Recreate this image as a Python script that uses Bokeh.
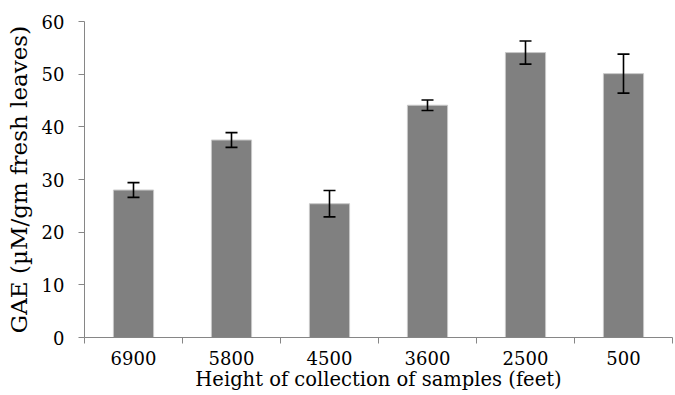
from bokeh.plotting import figure
from bokeh.models import ColumnDataSource, Whisker, FixedTicker, Range1d
from bokeh.embed import file_html
from bokeh.resources import INLINE

categories = ["6900", "5800", "4500", "3600", "2500", "500"]
gae = [28.0, 37.5, 25.4, 44.1, 54.1, 50.1]
err = [1.4, 1.4, 2.5, 1.0, 2.2, 3.7]

xpos = [i + 0.5 for i in range(len(categories))]
src = ColumnDataSource(dict(
    x=xpos, top=gae,
    upper=[v + e for v, e in zip(gae, err)],
    lower=[v - e for v, e in zip(gae, err)],
))

p = figure(width=675, height=395, output_backend="svg", toolbar_location=None,
           x_range=Range1d(0, len(categories)), y_range=Range1d(0, 60),
           min_border_left=84, min_border_right=3, min_border_top=21, min_border_bottom=58)
p.frame_width = 588
p.frame_height = 316
p.outline_line_color = None
p.xgrid.visible = False
p.ygrid.visible = False
p.background_fill_color = "white"
p.border_fill_color = "white"

p.vbar(x="x", top="top", width=0.41, bottom=0, source=src,
       fill_color="#808080", line_color="#c8c8c8", line_width=1)

w = Whisker(base="x", upper="upper", lower="lower", source=src,
            line_color="black", line_width=1.6, level="overlay")
w.upper_head.size = 12
w.lower_head.size = 12
w.upper_head.line_color = "black"
w.lower_head.line_color = "black"
w.upper_head.line_width = 1.6
w.lower_head.line_width = 1.6
p.add_layout(w)

font = "DejaVu Serif"
ax = p.xaxis[0]
ax.ticker = FixedTicker(ticks=xpos, minor_ticks=list(range(len(categories) + 1)))
ax.major_label_overrides = {x: c for x, c in zip(xpos, categories)}
ax.major_tick_out = 0
ax.major_tick_in = 0
ax.minor_tick_out = 6
ax.minor_tick_in = 0
ax.minor_tick_line_color = "#868686"
ax.axis_line_color = "#868686"
ax.major_label_text_font = font
ax.major_label_text_font_size = "18px"
ax.major_label_text_color = "black"
ax.major_label_standoff = 7
ax.axis_label = "Height of collection of samples (feet)"
ax.axis_label_text_font = font
ax.axis_label_text_font_size = "19.5px"
ax.axis_label_text_font_style = "normal"
ax.axis_label_text_color = "black"
ax.axis_label_standoff = 0

ay = p.yaxis[0]
ay.ticker = FixedTicker(ticks=[0, 10, 20, 30, 40, 50, 60])
ay.minor_tick_line_color = None
ay.major_tick_out = 6
ay.major_tick_in = 0
ay.major_tick_line_color = "#868686"
ay.axis_line_color = "#868686"
ay.major_label_text_font = font
ay.major_label_text_font_size = "18px"
ay.major_label_text_color = "black"
ay.major_label_standoff = 14
ay.axis_label = "GAE (µM/gm fresh leaves)"
ay.axis_label_text_font = font
ay.axis_label_text_font_size = "23px"
ay.axis_label_text_font_style = "normal"
ay.axis_label_text_color = "black"
ay.axis_label_standoff = 7

open("out.html", "w").write(file_html(p, INLINE))
